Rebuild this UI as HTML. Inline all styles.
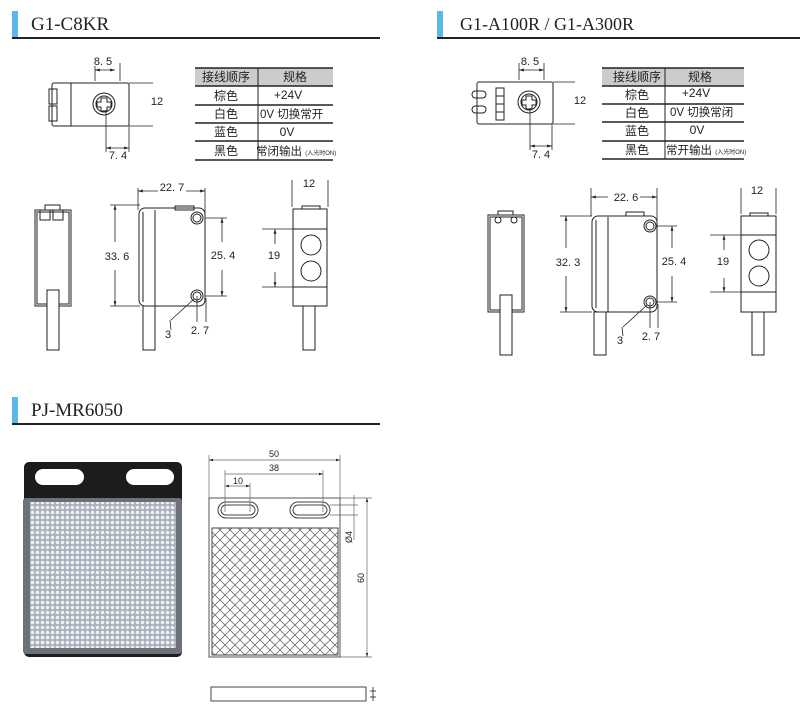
<!DOCTYPE html>
<html><head><meta charset="utf-8"><style>
html,body{margin:0;padding:0;background:#fff;width:800px;height:713px;overflow:hidden}
svg{display:block}
text{font-family:"Liberation Sans","Noto Sans CJK SC",sans-serif;fill:#222}
.h{font-family:"Liberation Serif","Noto Serif CJK SC",serif;font-size:19px;fill:#222}
.d{font-size:11px}
.t{font-size:12px}
</style></head><body>
<svg width="800" height="713" viewBox="0 0 800 713" xmlns="http://www.w3.org/2000/svg">
<defs>
<marker id="a" viewBox="0 0 10 10" refX="10" refY="5" markerWidth="6" markerHeight="6" orient="auto-start-reverse"><path d="M0,2L10,5L0,8z" fill="#222"/></marker>
<pattern id="x" width="10" height="10" patternUnits="userSpaceOnUse"><path d="M0,0L10,10M10,0L0,10" stroke="#555" stroke-width="0.7"/></pattern>
<pattern id="dots" width="5" height="5" patternUnits="userSpaceOnUse"><rect width="5" height="5" fill="#a9b0bb"/><circle cx="2.5" cy="2.5" r="1.8" fill="#eef1f5"/></pattern>
</defs>
<g stroke="#222" fill="none" stroke-width="1">
<rect x="12" y="11" width="6" height="26" fill="#5bb8e8" stroke="none"/>
<line x1="12" y1="38" x2="380" y2="38" stroke-width="2"/>
<rect x="437" y="11" width="6" height="26" fill="#5bb8e8" stroke="none"/>
<line x1="437" y1="38" x2="800" y2="38" stroke-width="2"/>
<rect x="12" y="397" width="6" height="27" fill="#5bb8e8" stroke="none"/>
<line x1="12" y1="424" x2="380" y2="424" stroke-width="2"/>

<rect x="52" y="83" width="77" height="43" rx="2"/>
<rect x="49" y="89" width="8" height="15"/><rect x="49" y="106" width="8" height="15"/>
<line x1="71" y1="83" x2="71" y2="126"/>
<circle cx="104" cy="104" r="11"/><circle cx="104" cy="104" r="8"/>
<path d="M101,98h6v4h4v5h-4v4h-6v-4h-4v-5h4z"/>
<line x1="95" y1="66" x2="95" y2="81" stroke-width="0.8"/><line x1="120" y1="63" x2="120" y2="81" stroke-width="0.8"/>
<line x1="95" y1="70" x2="115" y2="70" stroke-width="0.8" marker-start="url(#a)" marker-end="url(#a)"/>
<line x1="129" y1="83" x2="153" y2="83" stroke-width="0.8"/><line x1="129" y1="126" x2="153" y2="126" stroke-width="0.8"/>
<line x1="106" y1="110" x2="106" y2="152" stroke-width="0.8"/><line x1="129" y1="126" x2="129" y2="152" stroke-width="0.8"/>
<line x1="106" y1="148" x2="129" y2="148" stroke-width="0.8" marker-start="url(#a)" marker-end="url(#a)"/>

<rect x="195" y="68" width="138" height="18" fill="#ccc" stroke="none"/>
<line x1="195" y1="68" x2="333" y2="68" stroke-width="1.5"/>
<line x1="195" y1="86" x2="333" y2="86" stroke-width="1.5"/>
<line x1="195" y1="105" x2="333" y2="105" stroke-width="1.5"/>
<line x1="195" y1="123" x2="333" y2="123" stroke-width="1.5"/>
<line x1="195" y1="141" x2="333" y2="141" stroke-width="1.5"/>
<line x1="195" y1="160" x2="333" y2="160" stroke-width="1.5"/>
<line x1="258" y1="68" x2="258" y2="160"/>

<rect x="35" y="210" width="36" height="96"/><rect x="37" y="212" width="32" height="92"/>
<rect x="45" y="205" width="15" height="5"/>
<rect x="40" y="210" width="10" height="10"/><rect x="53" y="210" width="10" height="10"/>
<rect x="47" y="290" width="12" height="60" fill="#fff"/>
<rect x="139" y="208" width="66" height="98" rx="6"/>
<line x1="143" y1="212" x2="143" y2="302"/><line x1="155" y1="210" x2="155" y2="306"/>
<rect x="175" y="206" width="19" height="4"/>
<circle cx="197" cy="218" r="6"/><circle cx="197" cy="218" r="4"/>
<circle cx="197" cy="296" r="6"/><circle cx="197" cy="296" r="4"/>
<rect x="143" y="306" width="12" height="44"/>
<line x1="138" y1="188" x2="138" y2="210" stroke-width="0.8"/><line x1="205" y1="188" x2="205" y2="220" stroke-width="0.8"/>
<line x1="138" y1="191" x2="158" y2="191" stroke-width="0.8" marker-start="url(#a)"/><line x1="186" y1="191" x2="205" y2="191" stroke-width="0.8" marker-end="url(#a)"/>
<line x1="110" y1="205" x2="140" y2="205" stroke-width="0.8"/><line x1="110" y1="306" x2="140" y2="306" stroke-width="0.8"/>
<line x1="115" y1="242" x2="115" y2="205" stroke-width="0.8" marker-end="url(#a)"/><line x1="115" y1="270" x2="115" y2="306" stroke-width="0.8" marker-end="url(#a)"/>
<line x1="205" y1="218" x2="227" y2="218" stroke-width="0.8"/><line x1="205" y1="296" x2="227" y2="296" stroke-width="0.8"/>
<line x1="222" y1="242" x2="222" y2="218" stroke-width="0.8" marker-end="url(#a)"/><line x1="222" y1="270" x2="222" y2="296" stroke-width="0.8" marker-end="url(#a)"/>
<line x1="197" y1="296" x2="197" y2="322" stroke-width="0.8"/><line x1="206" y1="298" x2="206" y2="322" stroke-width="0.8"/>
<path d="M170,320L171,330M171,320L194,299" stroke-width="0.8"/>
<rect x="293" y="209" width="34" height="97"/>
<rect x="302" y="206" width="18" height="3"/>
<line x1="293" y1="229" x2="327" y2="229"/><line x1="293" y1="287" x2="327" y2="287"/>
<line x1="262" y1="229" x2="293" y2="229" stroke-width="0.8"/><line x1="262" y1="287" x2="293" y2="287" stroke-width="0.8"/>
<circle cx="311" cy="245" r="10"/><circle cx="311" cy="271" r="10"/>
<rect x="303" y="306" width="12" height="44"/>
<line x1="292" y1="180" x2="292" y2="207" stroke-width="0.8"/><line x1="328" y1="180" x2="328" y2="207" stroke-width="0.8"/>
<line x1="275" y1="244" x2="275" y2="229" stroke-width="0.8" marker-end="url(#a)"/><line x1="275" y1="272" x2="275" y2="287" stroke-width="0.8" marker-end="url(#a)"/>

<rect x="477" y="82" width="76" height="42" rx="2"/>
<rect x="472" y="91" width="14" height="7" rx="3.5"/><rect x="472" y="106" width="14" height="7" rx="3.5"/>
<rect x="496" y="88" width="8" height="32"/><line x1="496" y1="104" x2="504" y2="104"/><line x1="496" y1="96" x2="504" y2="96"/><line x1="496" y1="112" x2="504" y2="112"/>
<circle cx="529" cy="102" r="11"/><circle cx="529" cy="102" r="8"/>
<path d="M526,96h6v4h4v5h-4v4h-6v-4h-4v-5h4z"/>
<line x1="519" y1="63" x2="519" y2="80" stroke-width="0.8"/><line x1="544" y1="63" x2="544" y2="80" stroke-width="0.8"/>
<line x1="519" y1="70" x2="544" y2="70" stroke-width="0.8" marker-start="url(#a)" marker-end="url(#a)"/>
<line x1="553" y1="82" x2="575" y2="82" stroke-width="0.8"/><line x1="553" y1="124" x2="575" y2="124" stroke-width="0.8"/>
<line x1="530" y1="108" x2="530" y2="150" stroke-width="0.8"/><line x1="552" y1="124" x2="552" y2="150" stroke-width="0.8"/>
<line x1="530" y1="146" x2="552" y2="146" stroke-width="0.8" marker-start="url(#a)" marker-end="url(#a)"/>
<rect x="602" y="68" width="142" height="18" fill="#ccc" stroke="none"/>
<line x1="602" y1="68" x2="744" y2="68" stroke-width="1.5"/>
<line x1="602" y1="86" x2="744" y2="86" stroke-width="1.5"/>
<line x1="602" y1="104" x2="744" y2="104" stroke-width="1.5"/>
<line x1="602" y1="122" x2="744" y2="122" stroke-width="1.5"/>
<line x1="602" y1="141" x2="744" y2="141" stroke-width="1.5"/>
<line x1="602" y1="159" x2="744" y2="159" stroke-width="1.5"/>
<line x1="665" y1="68" x2="665" y2="159"/>
<rect x="488" y="215" width="36" height="97"/><rect x="490" y="217" width="32" height="93"/>
<rect x="498" y="211" width="15" height="4"/>
<circle cx="498" cy="220" r="3"/><circle cx="514" cy="220" r="3"/>
<rect x="500" y="295" width="12" height="60" fill="#fff"/>
<rect x="592" y="216" width="65" height="96" rx="6"/>
<line x1="596" y1="220" x2="596" y2="308"/><line x1="608" y1="217" x2="608" y2="312"/>
<rect x="626" y="212" width="18" height="4"/>
<circle cx="650" cy="226" r="6"/><circle cx="650" cy="226" r="4"/>
<circle cx="650" cy="302" r="6"/><circle cx="650" cy="302" r="4"/>
<rect x="594" y="312" width="12" height="43"/>
<line x1="591" y1="188" x2="591" y2="216" stroke-width="0.8"/><line x1="657" y1="188" x2="657" y2="226" stroke-width="0.8"/>
<line x1="591" y1="197" x2="608" y2="197" stroke-width="0.8" marker-start="url(#a)"/><line x1="640" y1="197" x2="657" y2="197" stroke-width="0.8" marker-end="url(#a)"/>
<line x1="560" y1="216" x2="592" y2="216" stroke-width="0.8"/><line x1="560" y1="312" x2="592" y2="312" stroke-width="0.8"/>
<line x1="566" y1="248" x2="566" y2="216" stroke-width="0.8" marker-end="url(#a)"/><line x1="566" y1="276" x2="566" y2="312" stroke-width="0.8" marker-end="url(#a)"/>
<line x1="657" y1="226" x2="677" y2="226" stroke-width="0.8"/><line x1="657" y1="302" x2="677" y2="302" stroke-width="0.8"/>
<line x1="672" y1="248" x2="672" y2="226" stroke-width="0.8" marker-end="url(#a)"/><line x1="672" y1="276" x2="672" y2="302" stroke-width="0.8" marker-end="url(#a)"/>
<line x1="650" y1="302" x2="650" y2="328" stroke-width="0.8"/><line x1="658" y1="304" x2="658" y2="328" stroke-width="0.8"/>
<path d="M622,327L623,336M623,327L647,305" stroke-width="0.8"/>
<rect x="741" y="216" width="35" height="96"/>
<rect x="750" y="213" width="18" height="3"/>
<line x1="741" y1="235" x2="776" y2="235"/><line x1="741" y1="292" x2="776" y2="292"/>
<line x1="710" y1="235" x2="741" y2="235" stroke-width="0.8"/><line x1="710" y1="292" x2="741" y2="292" stroke-width="0.8"/>
<circle cx="759" cy="250" r="10"/><circle cx="759" cy="276" r="10"/>
<rect x="752" y="312" width="12" height="43"/>
<line x1="741" y1="188" x2="741" y2="214" stroke-width="0.8"/><line x1="776" y1="188" x2="776" y2="214" stroke-width="0.8"/>
<line x1="724" y1="250" x2="724" y2="235" stroke-width="0.8" marker-end="url(#a)"/><line x1="724" y1="278" x2="724" y2="292" stroke-width="0.8" marker-end="url(#a)"/>

<rect x="24" y="462" width="158" height="195" rx="5" fill="#1c1c1e" stroke="none"/>
<rect x="35" y="469" width="49" height="16" rx="8" fill="#fff" stroke="none"/>
<rect x="126" y="469" width="48" height="16" rx="8" fill="#fff" stroke="none"/>
<rect x="23" y="498" width="159" height="156" rx="3" fill="#6d7178" stroke="none"/>
<rect x="30" y="502" width="146" height="146" fill="url(#dots)" stroke="none"/>

<rect x="209" y="498" width="131" height="159" stroke="#555"/>
<rect x="218" y="502" width="40" height="16" rx="8" stroke="#444"/><rect x="221" y="505" width="34" height="10" rx="5" stroke="#444"/>
<rect x="290" y="502" width="40" height="16" rx="8" stroke="#444"/><rect x="293" y="505" width="34" height="10" rx="5" stroke="#444"/>
<rect x="212" y="528" width="126" height="127" fill="url(#x)" stroke="#444"/>
<g stroke="#666" stroke-width="0.7">
<line x1="209" y1="455" x2="209" y2="498"/><line x1="340" y1="455" x2="340" y2="498"/>
<line x1="209" y1="460" x2="340" y2="460" marker-start="url(#a)" marker-end="url(#a)"/>
<line x1="225" y1="470" x2="225" y2="512"/><line x1="323" y1="470" x2="323" y2="512"/>
<line x1="225" y1="474" x2="323" y2="474" marker-end="url(#a)"/>
<line x1="250" y1="483" x2="250" y2="512"/>
<line x1="225" y1="486" x2="250" y2="486" marker-start="url(#a)" marker-end="url(#a)"/>
<line x1="340" y1="498" x2="372" y2="498"/><line x1="340" y1="657" x2="372" y2="657"/>
<line x1="367" y1="498" x2="367" y2="657" marker-start="url(#a)" marker-end="url(#a)"/>
<line x1="330" y1="505" x2="358" y2="505"/><line x1="330" y1="515" x2="358" y2="515"/>
<line x1="354" y1="495" x2="354" y2="540"/>
</g>
<rect x="211" y="687" width="155" height="14" stroke="#444"/>
<line x1="373" y1="687" x2="373" y2="701" stroke-width="0.8"/><line x1="370" y1="691" x2="376" y2="691" stroke-width="0.8"/><line x1="370" y1="697" x2="376" y2="697" stroke-width="0.8"/>
</g>

<text class="h" x="31" y="30">G1-C8KR</text>
<text class="h" x="460" y="30" style="font-size:18px">G1-A100R / G1-A300R</text>
<text class="h" x="31" y="416">PJ-MR6050</text>

<g class="d" text-anchor="middle">
<text x="103" y="65">8. 5</text><text x="157" y="105">12</text><text x="118" y="159">7. 4</text>
<text x="172" y="191">22. 7</text><text x="117" y="260">33. 6</text><text x="223" y="259">25. 4</text>
<text x="168" y="338">3</text><text x="200" y="334">2. 7</text>
<text x="309" y="187">12</text><text x="274" y="259">19</text>
<text x="530" y="65">8. 5</text><text x="580" y="104">12</text><text x="541" y="158">7. 4</text>
<text x="626" y="201">22. 6</text><text x="568" y="266">32. 3</text><text x="674" y="265">25. 4</text>
<text x="620" y="344">3</text><text x="651" y="340">2. 7</text>
<text x="757" y="194">12</text><text x="723" y="265">19</text>
</g>
<g style="font-size:9px" text-anchor="middle" fill="#444">
<text x="274" y="457">50</text><text x="274" y="471">38</text><text x="238" y="484">10</text>
<text transform="translate(364,578) rotate(-90)">60</text>
<text transform="translate(352,537) rotate(-90)">Ø4</text>
</g>

<g class="t" text-anchor="middle">
<text x="226" y="81">接线顺序</text><text x="295" y="81">规格</text>
<text x="226" y="100">棕色</text><text x="288" y="99">+24V</text>
<text x="226" y="118">白色</text>
<text x="226" y="136">蓝色</text><text x="287" y="136">0V</text>
<text x="226" y="155">黑色</text>
<text x="637" y="81">接线顺序</text><text x="700" y="81">规格</text>
<text x="637" y="99">棕色</text><text x="696" y="97">+24V</text>
<text x="637" y="117">白色</text>
<text x="637" y="135">蓝色</text><text x="697" y="134">0V</text>
<text x="637" y="154">黑色</text>
</g>
<g class="t">
<text x="260" y="118" style="font-size:11.5px">0V 切换常开</text>
<text x="256" y="155" style="font-size:11.5px">常闭输出 <tspan style="font-size:6px">(入光时ON)</tspan></text>
<text x="670" y="116" style="font-size:11.5px">0V 切换常闭</text>
<text x="666" y="154" style="font-size:11.5px">常开输出 <tspan style="font-size:6px">(入光时ON)</tspan></text>
</g>
</svg>
</body></html>
